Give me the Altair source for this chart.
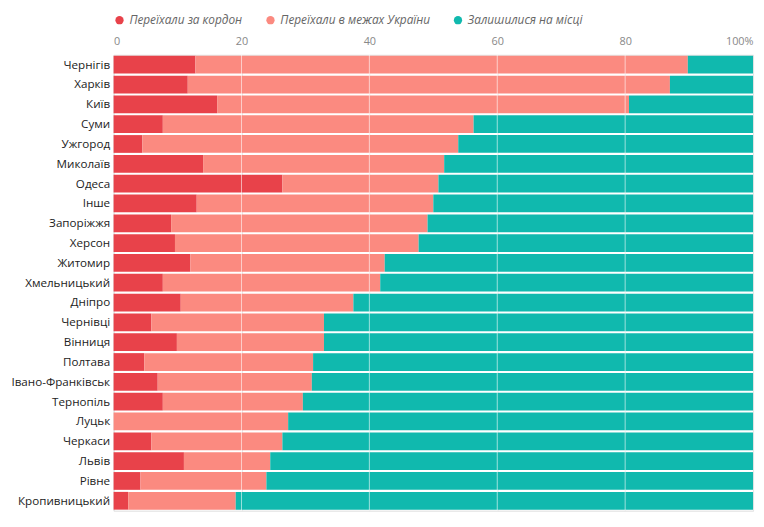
import altair as alt
import pandas as pd

cities = ['Чернігів', 'Харків', 'Київ', 'Суми', 'Ужгород', 'Миколаїв', 'Одеса', 'Інше',
          'Запоріжжя', 'Херсон', 'Житомир', 'Хмельницький', 'Дніпро', 'Чернівці', 'Вінниця',
          'Полтава', 'Івано-Франківськ', 'Тернопіль', 'Луцьк', 'Черкаси', 'Львів', 'Рівне',
          'Кропивницький']
abroad = [12.8, 11.6, 16.2, 7.7, 4.5, 14.0, 26.4, 13.0, 9.0, 9.6, 12.0, 7.7, 10.5, 5.9, 9.9,
          4.8, 6.9, 7.7, 0.0, 5.9, 11.0, 4.2, 2.3]
# cumulative edge of the second segment
inside_end = [89.8, 87.0, 80.6, 56.3, 53.9, 51.7, 50.8, 50.0, 49.1, 47.7, 42.4, 41.7, 37.5,
              32.9, 32.9, 31.2, 31.0, 29.6, 27.3, 26.4, 24.5, 23.9, 19.1]
series = ['Переїхали за кордон', 'Переїхали в межах України', 'Залишилися на місці']
colors = ['#e8424a', '#fb8a80', '#10b9ae']
grid_ticks = [20, 40, 60, 80]

rows = []
for c, a, p in zip(cities, abroad, inside_end):
    rows.append({'city': c, 'group': series[0], 'v': a, 'o': 0})
    rows.append({'city': c, 'group': series[1], 'v': round(p - a, 2), 'o': 1})
    rows.append({'city': c, 'group': series[2], 'v': round(100 - p, 2), 'o': 2})
df = pd.DataFrame(rows)

font = 'Open Sans'

bars = alt.Chart(df).mark_bar(size=18).encode(
    x=alt.X('v:Q', stack='zero', scale=alt.Scale(domain=[0, 100], nice=False),
            axis=alt.Axis(orient='top', values=[0, 20, 40, 60, 80, 100], title=None,
                          labelExpr="datum.value == 100 ? '100%' : datum.label",
                          grid=True, gridColor='#e6e6e6', domain=False, ticks=False,
                          labelColor='#888888', labelFontSize=11, labelFont=font,
                          labelFlush=True, labelPadding=8)),
    y=alt.Y('city:N', sort=cities, title=None,
            axis=alt.Axis(domain=False, ticks=False, labelFontSize=11.8, labelFont=font,
                          labelColor='#222222', labelPadding=4)),
    color=alt.Color('group:N', sort=series, scale=alt.Scale(domain=series, range=colors),
                    legend=alt.Legend(title=None, orient='top', direction='horizontal',
                                      symbolType='circle', symbolSize=70,
                                      labelFont=font, labelFontSize=12,
                                      labelFontStyle='italic', labelColor='#666666',
                                      offset=10, columnPadding=22)),
    order=alt.Order('o:Q'),
)

grid = alt.Chart(pd.DataFrame({'x': grid_ticks})).mark_rule(color='white', strokeWidth=1,
                                                           opacity=0.6).encode(x='x:Q')

chart = alt.layer(bars, grid).properties(width=648, height=462).configure_view(
    stroke=None).configure(padding={'left': 2, 'top': 3, 'right': 3, 'bottom': 2})

chart.save("out.html", embed_options={"renderer": "svg", "actions": False})
